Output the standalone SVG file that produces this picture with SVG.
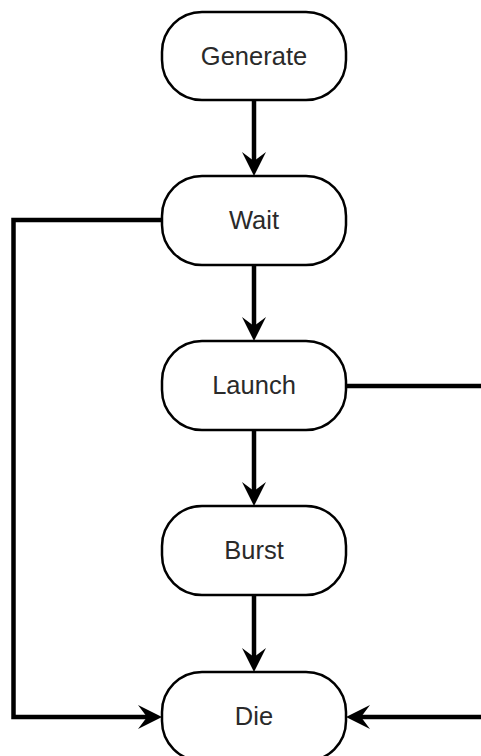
<svg xmlns="http://www.w3.org/2000/svg" width="481" height="756" viewBox="0 0 481 756">
<defs>
<style>
.node rect{fill:#ffffff;stroke:#000000;stroke-width:2.5}
.node text{font-family:"Liberation Sans",Arial,sans-serif;font-size:25.5px;fill:#2a2a2a;text-anchor:middle;dominant-baseline:central}
.conn path{fill:none;stroke:#000000;stroke-width:4.5;stroke-linejoin:miter}
</style>
<marker id="arr" viewBox="-10 -13 27 26" markerWidth="27" markerHeight="26" refX="0" refY="0" orient="auto" markerUnits="userSpaceOnUse">
<path d="M15,0 L-9,-12 L0,0 L-9,12 Z" fill="#000000"/>
</marker>
</defs>
<rect width="481" height="756" fill="#ffffff"/>
<g id="connectors" class="conn">
<path d="M254,100 V161" marker-end="url(#arr)"/>
<path d="M254,265 V326" marker-end="url(#arr)"/>
<path d="M254,430 V491" marker-end="url(#arr)"/>
<path d="M254,595 V657" marker-end="url(#arr)"/>
<path d="M161,220 H13.5 V717 H147" marker-end="url(#arr)"/>
<path d="M346,386 H490 V717 H361" marker-end="url(#arr)"/>
</g>
<g id="generate" class="node"><rect x="162" y="12" width="184" height="88" rx="40"/><text x="254" y="56">Generate</text></g>
<g id="wait" class="node"><rect x="162" y="176" width="184" height="89" rx="40"/><text x="254" y="220">Wait</text></g>
<g id="launch" class="node"><rect x="162" y="341" width="184" height="89" rx="40"/><text x="254" y="385">Launch</text></g>
<g id="burst" class="node"><rect x="162" y="506" width="184" height="89" rx="40"/><text x="254" y="550">Burst</text></g>
<g id="die" class="node"><rect x="162" y="672" width="184" height="89" rx="40"/><text x="254" y="716">Die</text></g>
</svg>
